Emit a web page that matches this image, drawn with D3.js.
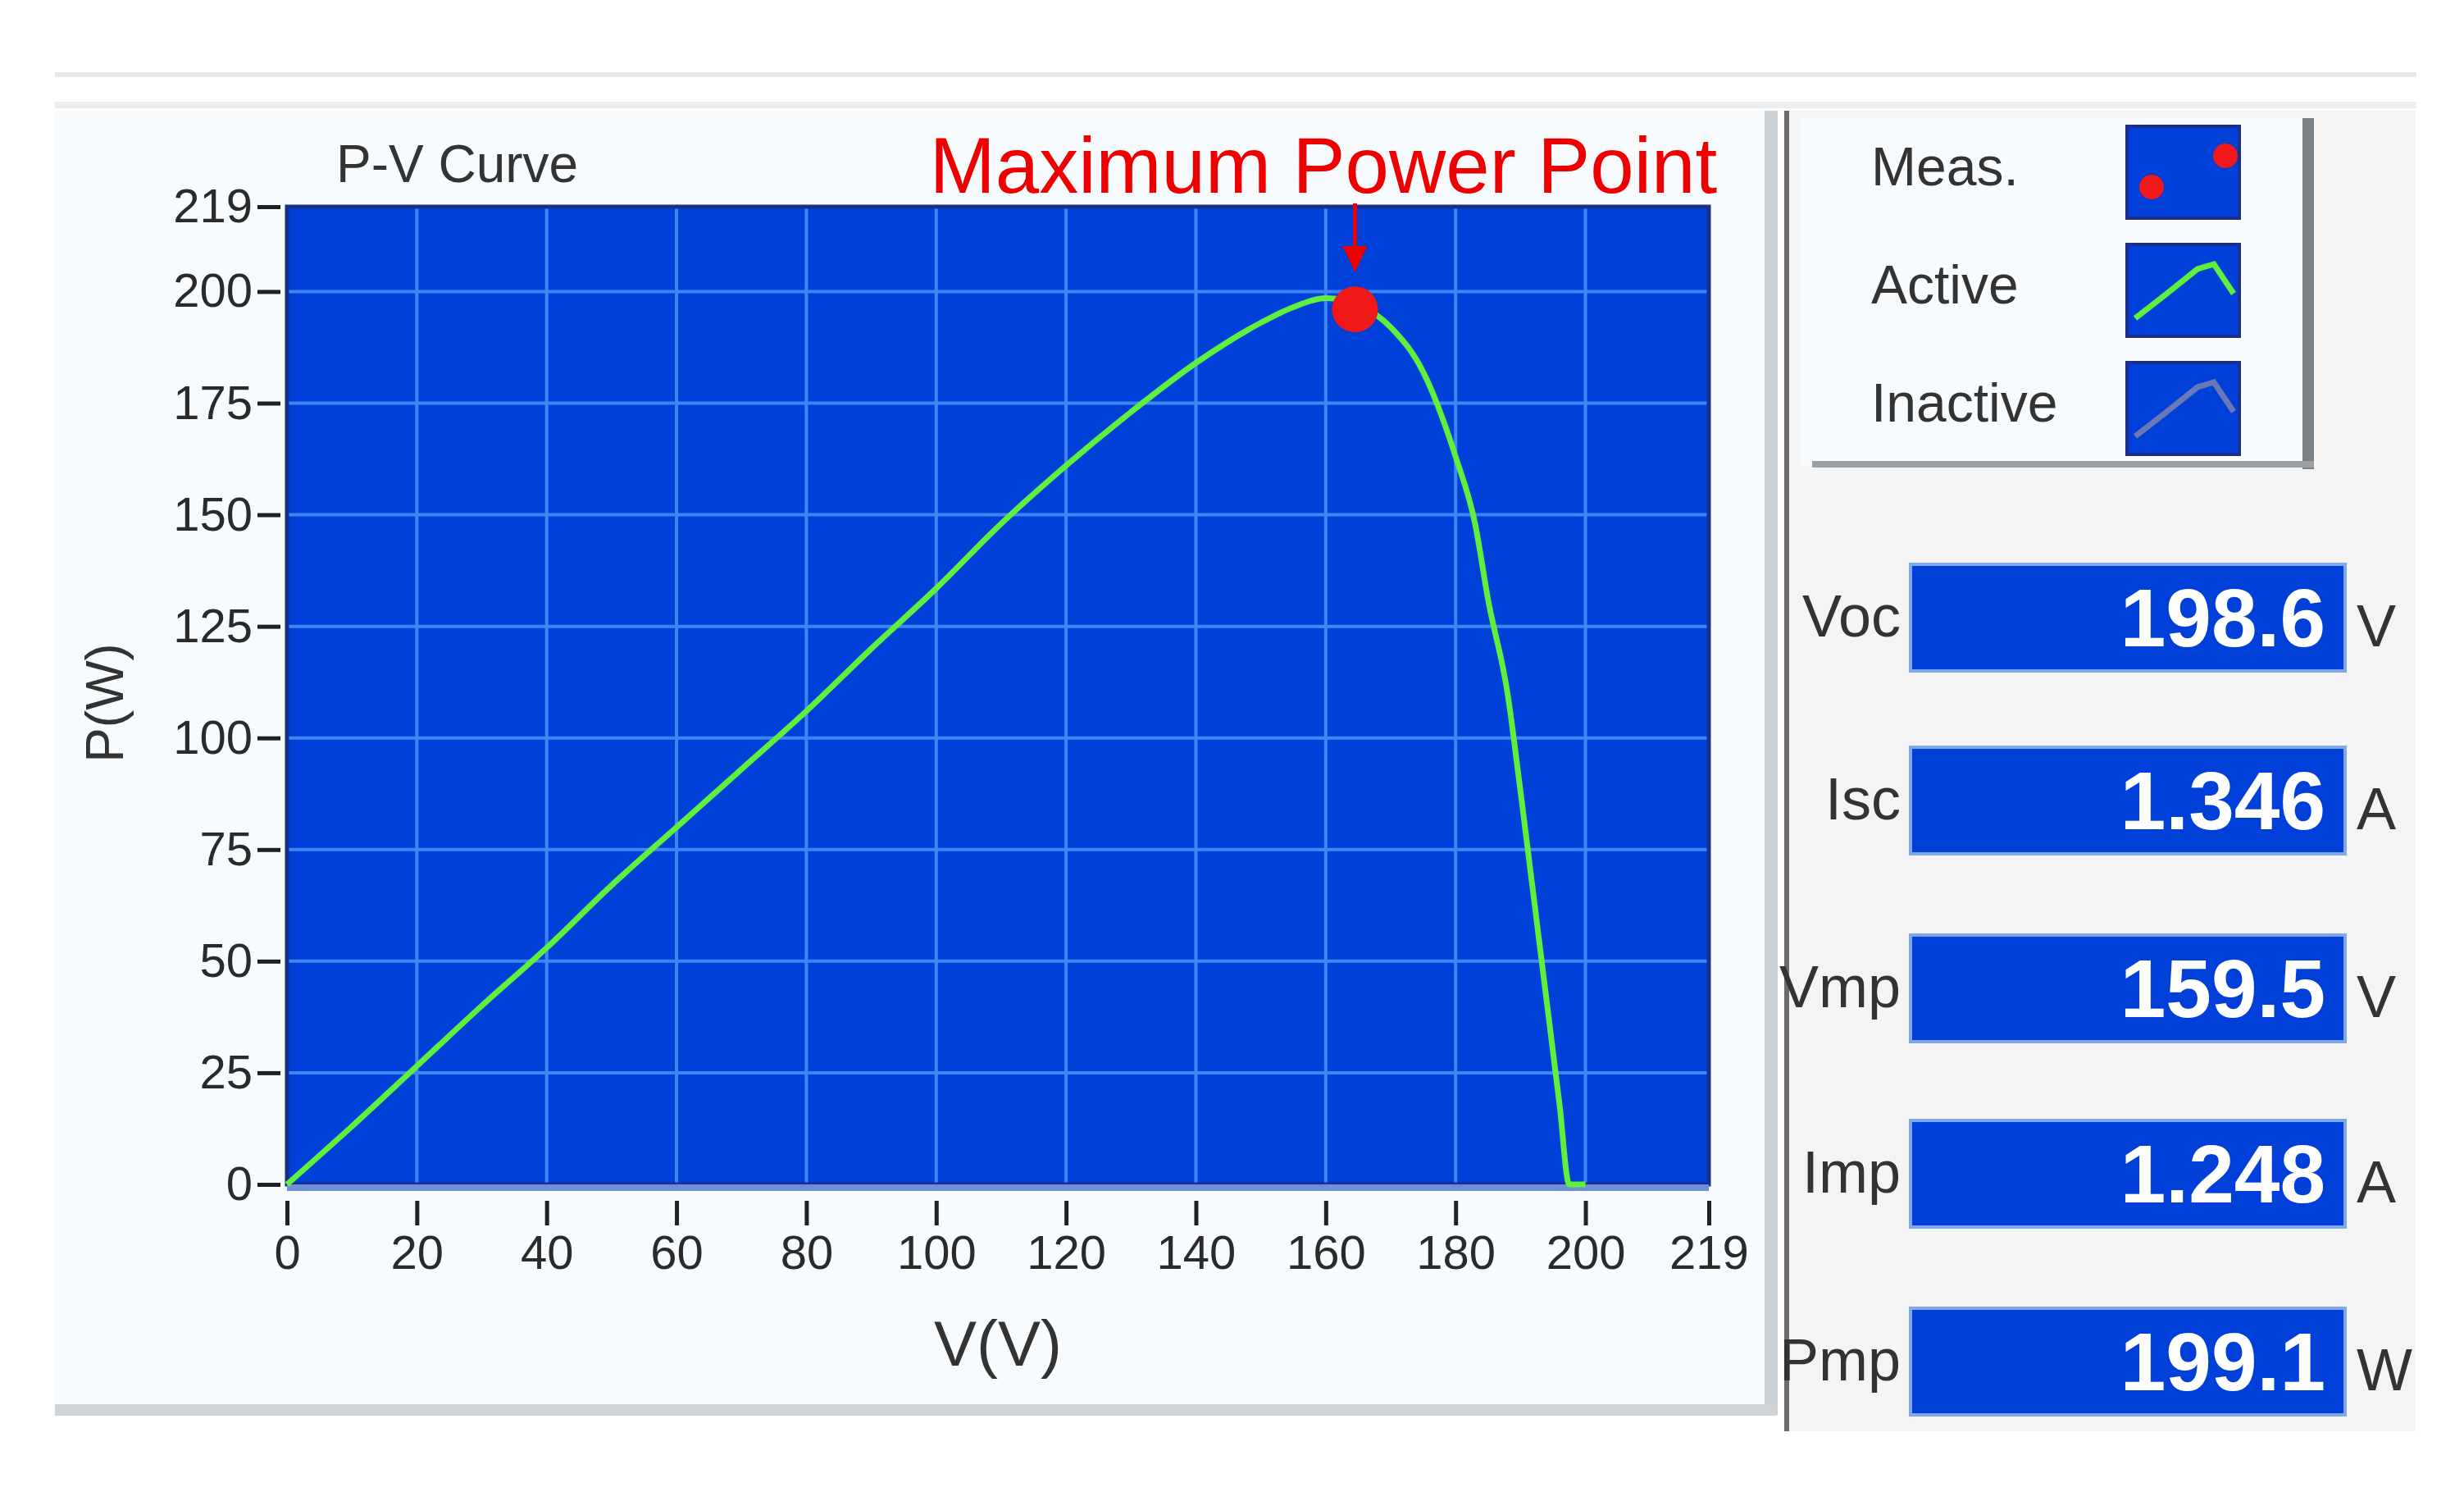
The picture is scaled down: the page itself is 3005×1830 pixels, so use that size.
<!DOCTYPE html>
<html>
<head>
<meta charset="utf-8">
<script src="https://cdn.jsdelivr.net/npm/d3@7"></script>
<style>
  body { margin: 0; background: #fff; }
  text { font-family: "Liberation Sans Narrow", "Liberation Sans", Arial, sans-serif; }
</style>
</head>
<body>
<svg id="chart" width="3005" height="1830"></svg>
<script>
  // P-V curve samples
  var voltage = [0, 10, 20, 30, 40, 50, 60, 70, 80, 90, 100, 110, 120, 130, 140, 150, 155, 160, 165, 170, 175, 180, 183, 185, 188, 190, 193, 196, 197.5, 200];
  var power   = [0, 13, 26.5, 40, 53, 67, 80, 93, 106, 120, 133.5, 148, 161, 173, 184, 193, 196.5, 198.5, 197, 192, 182, 163, 148, 131, 110, 88, 53, 18, 0, 0];
  var mpp = { v: 164.5, p: 196 };
  var xTicks = [0, 20, 40, 60, 80, 100, 120, 140, 160, 180, 200, 219];
  var yTicks = [0, 25, 50, 75, 100, 125, 150, 175, 200, 219];
  var legendItems = ['Meas.', 'Active', 'Inactive'];
  var readoutNames = ['Voc', 'Isc', 'Vmp', 'Imp', 'Pmp'];
  var readoutValues = ['198.6', '1.346', '159.5', '1.248', '199.1'];
  var readoutUnits = ['V', 'A', 'V', 'A', 'W'];

  var svg = d3.select('#chart');
  var plotBlue = '#0040d8', gridBlue = '#3f86f5', green = '#5ef03c';

  // background frame strips
  svg.append('rect').attr('x', 67).attr('y', 88).attr('width', 2880).attr('height', 6).attr('fill', '#e8e8e8');
  svg.append('rect').attr('x', 67).attr('y', 124).attr('width', 2880).attr('height', 8).attr('fill', '#eeeeee');
  svg.append('rect').attr('x', 67).attr('y', 135).attr('width', 2100).attr('height', 1590).attr('fill', '#f7fbfd');
  svg.append('rect').attr('x', 2152).attr('y', 135).attr('width', 16).attr('height', 1590).attr('fill', '#c9cfd2');
  svg.append('rect').attr('x', 67).attr('y', 1712).attr('width', 2100).attr('height', 14).attr('fill', '#cfd3d5');
  svg.append('rect').attr('x', 2176).attr('y', 135).attr('width', 770).attr('height', 1610).attr('fill', '#f4f4f4');
  svg.append('rect').attr('x', 2176).attr('y', 135).attr('width', 6).attr('height', 1610).attr('fill', '#6c6c6c');

  var m = { left: 350, right: 2084, top: 252, bottom: 1444 };
  var x = d3.scaleLinear().domain([0, 219]).range([m.left, m.right]);
  var y = d3.scaleLinear().domain([0, 219]).range([m.bottom, m.top]);

  svg.append('rect').attr('x', m.left).attr('y', m.top)
    .attr('width', m.right - m.left).attr('height', m.bottom - m.top)
    .attr('fill', plotBlue);

  // grid
  var g = svg.append('g');
  g.selectAll('.gx').data(xTicks.slice(1, -1)).enter().append('line')
    .attr('x1', x).attr('x2', x).attr('y1', m.top).attr('y2', m.bottom)
    .attr('stroke', gridBlue).attr('stroke-width', 4);
  g.selectAll('.gy').data(yTicks.slice(1, -1)).enter().append('line')
    .attr('y1', y).attr('y2', y).attr('x1', m.left).attr('x2', m.right)
    .attr('stroke', gridBlue).attr('stroke-width', 4);
  svg.append('rect').attr('x', m.left).attr('y', m.top)
    .attr('width', m.right - m.left).attr('height', m.bottom - m.top)
    .attr('fill', 'none').attr('stroke', '#1a2f8a').attr('stroke-width', 5);
  svg.append('line').attr('x1', m.left).attr('x2', m.right).attr('y1', m.bottom + 4).attr('y2', m.bottom + 4)
    .attr('stroke', '#6e8ed8').attr('stroke-width', 8);

  // axes
  var yAxis = svg.append('g').attr('transform', 'translate(' + (m.left - 8) + ',0)')
    .call(d3.axisLeft(y).tickValues(yTicks).tickSize(28).tickPadding(6));
  var xAxis = svg.append('g').attr('transform', 'translate(0,' + (m.bottom + 20) + ')')
    .call(d3.axisBottom(x).tickValues(xTicks).tickSize(30).tickPadding(12));
  [xAxis, yAxis].forEach(function(a) {
    a.select('.domain').remove();
    a.selectAll('line').attr('stroke', '#222').attr('stroke-width', 5);
    a.selectAll('text').attr('font-size', 58).attr('fill', '#2a2a2a');
  });

  svg.append('text').attr('x', 410).attr('y', 222).attr('font-size', 64).attr('fill', '#333').text('P-V Curve');
  svg.append('text').attr('x', 1217).attr('y', 1665).attr('text-anchor', 'middle')
    .attr('font-size', 78).attr('fill', '#333').text('V(V)');
  svg.append('text').attr('transform', 'translate(150,857) rotate(-90)').attr('text-anchor', 'middle')
    .attr('font-size', 64).attr('fill', '#333').text('P(W)');

  // curve
  var pts = voltage.map(function(v, i) { return [v, power[i]]; });
  svg.append('path').datum(pts)
    .attr('d', d3.line().x(function(d) { return x(d[0]); }).y(function(d) { return y(d[1]); }).curve(d3.curveMonotoneX))
    .attr('fill', 'none').attr('stroke', green).attr('stroke-width', 7);

  svg.append('circle').attr('cx', x(mpp.v)).attr('cy', y(mpp.p)).attr('r', 28).attr('fill', '#f01818');

  // annotation
  svg.append('text').attr('x', 1614).attr('y', 235).attr('text-anchor', 'middle')
    .attr('font-family', '"Liberation Serif", "Times New Roman", serif')
    .attr('font-size', 96).attr('fill', '#ee0000').text('Maximum Power Point');
  var ax = x(mpp.v);
  svg.append('line').attr('x1', ax).attr('x2', ax).attr('y1', 248).attr('y2', 305)
    .attr('stroke', '#ee0000').attr('stroke-width', 5);
  svg.append('path').attr('d', 'M' + (ax - 15) + ',300 L' + (ax + 15) + ',300 L' + ax + ',332 Z').attr('fill', '#ee0000');

  // legend
  svg.append('rect').attr('x', 2196).attr('y', 144).attr('width', 626).attr('height', 424).attr('fill', '#f7fbfd');
  svg.append('rect').attr('x', 2808).attr('y', 144).attr('width', 14).attr('height', 428).attr('fill', '#7a8084');
  svg.append('rect').attr('x', 2210).attr('y', 562).attr('width', 612).attr('height', 8).attr('fill', '#9aa0a3');
  var lg = svg.selectAll('.leg').data(legendItems).enter().append('g')
    .attr('transform', function(d, i) { return 'translate(0,' + (154 + i * 144) + ')'; });
  lg.append('rect').attr('x', 2594).attr('y', 0).attr('width', 137).attr('height', 112)
    .attr('fill', plotBlue).attr('stroke', '#1a2f8a').attr('stroke-width', 4);
  lg.append('text').attr('x', 2282).attr('y', 72).attr('font-size', 66).attr('fill', '#333')
    .attr('font-family', '"Liberation Sans", Arial, sans-serif').text(function(d) { return d; });
  lg.filter(function(d, i) { return i === 0; }).selectAll('circle').data([[2624, 74], [2714, 36]]).enter()
    .append('circle').attr('cx', function(d) { return d[0]; }).attr('cy', function(d) { return d[1]; })
    .attr('r', 15).attr('fill', '#f01818');
  lg.filter(function(d, i) { return i > 0; }).append('path')
    .attr('d', 'M2604,90 L2640,62 L2680,30 L2700,24 L2724,60')
    .attr('fill', 'none').attr('stroke-width', 7)
    .attr('stroke', function(d, i) { return i === 0 ? green : '#6a78b8'; });

  // readouts
  var boxY = [688, 911, 1140, 1366, 1595];
  var ro = svg.selectAll('.ro').data(readoutNames).enter().append('g')
    .attr('transform', function(d, i) { return 'translate(0,' + boxY[i] + ')'; });
  ro.append('rect').attr('x', 2330).attr('y', 0).attr('width', 530).attr('height', 130)
    .attr('fill', plotBlue).attr('stroke', '#7fa8ea').attr('stroke-width', 4);
  ro.append('text').attr('x', 2318).attr('y', 88).attr('text-anchor', 'end')
    .attr('font-size', 72).attr('fill', '#333').text(function(d) { return d; });
  ro.append('text').attr('x', 2836).attr('y', 100).attr('text-anchor', 'end')
    .attr('font-family', '"Liberation Sans", Arial, sans-serif').attr('font-weight', 'bold')
    .attr('font-size', 100).attr('fill', '#fff').text(function(d, i) { return readoutValues[i]; });
  ro.append('text').attr('x', 2874).attr('y', 100).attr('font-size', 72).attr('fill', '#333')
    .attr('font-family', '"Liberation Sans", Arial, sans-serif').text(function(d, i) { return readoutUnits[i]; });
</script>
</body>
</html>
